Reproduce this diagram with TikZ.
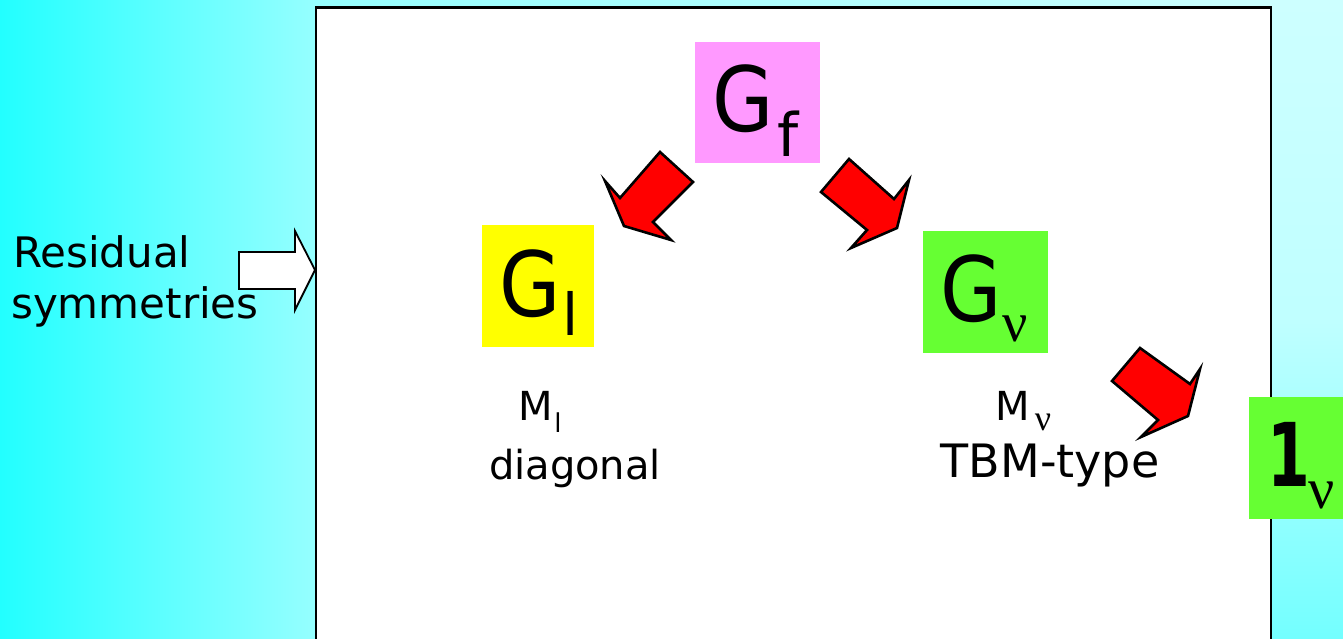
\documentclass[tikz,border=0pt]{standalone}
\usepackage{fontspec}
\setmainfont{DejaVu Sans}
\newfontfamily\grk{Liberation Serif}
\newfontfamily\gfont[FakeStretch=0.88]{DejaVu Sans}
\newfontfamily\onefont[FakeStretch=0.7]{DejaVu Sans Bold}
\definecolor{bgA}{RGB}{34,255,255}
\definecolor{bgB}{RGB}{150,255,255}
\definecolor{bgC}{RGB}{205,255,255}
\definecolor{bgD}{RGB}{115,255,255}
\definecolor{pinkG}{RGB}{255,153,255}
\definecolor{yelG}{RGB}{255,255,0}
\definecolor{grnG}{RGB}{102,255,51}
\tikzset{
  colbox/.style={rectangle, inner sep=0pt, draw=none},
  txt/.style={inner sep=0pt, anchor=base},
  redarrow/.style={fill=red, draw=black, line width=2.6pt, line join=miter},
  whitearrow/.style={fill=white, draw=black, line width=1.8pt, line join=miter}
}
\newcommand{\fsz}[1]{\fontsize{#1}{#1}\selectfont}
\begin{document}
\begin{tikzpicture}[x=1pt,y=-1pt]
\useasboundingbox (0,0) rectangle (1343,639);
% background
\shade[left color=bgA, right color=bgB] (0,0) rectangle (317,639);
\shade[left color=bgB, right color=bgC] (316,0) rectangle (1272,10);
\shade[top color=bgC, bottom color=bgD, middle color=bgC!85!bgD] (1271,0) rectangle (1343,639);
% frame
\draw[line width=2.8pt, fill=white] (316,7.5) rectangle (1271,700);
% coloured boxes
\node[colbox, fill=pinkG, minimum width=125, minimum height=121] (gfbox) at (757.5,102.7) {};
\node[colbox, fill=yelG, minimum width=112, minimum height=122] (glbox) at (538,286) {};
\node[colbox, fill=grnG, minimum width=125, minimum height=122] (gnbox) at (985.8,292) {};
\node[colbox, fill=grnG, minimum width=110, minimum height=122] (onebox) at (1304,458) {};
% box texts
\node[txt, font=\fsz{90}\gfont] (gf) at (743,132) {G};
\node[txt, font=\fsz{60}] (gfs) at (788,157) {f};
\node[txt, font=\fsz{90}\gfont] (gl) at (530,316.7) {G};
\node[txt, font=\fsz{58}] (gls) at (571,335.7) {l};
\node[txt, font=\fsz{90}\gfont] (gn) at (971,321.7) {G};
\node[txt, font=\fsz{56}\grk] (gns) at (1015,341.7) {ν};
\node[txt, font=\fsz{88}\onefont] (one) at (1288.5,486.7) {1};
\node[txt, font=\fsz{58}\grk] (ones) at (1322,508) {ν};
% labels
\node[txt, font=\fsz{40}] (ml) at (536,420) {M};
\node[txt, font=\fsz{26}] (mls) at (558,432) {l};
\node[txt, font=\fsz{40}] (diag) at (575,479) {diagonal};
\node[txt, font=\fsz{40}] (mn) at (1013,420) {M};
\node[txt, font=\fsz{36}\grk] (mns) at (1043,430) {ν};
\node[txt, font=\fsz{46}] (tbm) at (1050,477) {TBM-type};
\node[inner sep=0pt, anchor=base west, font=\fsz{42}] (res) at (13,267) {Residual};
\node[inner sep=0pt, anchor=base west, font=\fsz{42}] (sym) at (11,318) {symmetries};
% arrows
\draw[whitearrow] (239,252) -- (295,252) -- (295,231) -- (315,270) -- (295,310) -- (295,289) -- (239,289) -- cycle;
\draw[redarrow] (660,152) -- (693,182) -- (653,222) -- (671,240) -- (624,226) -- (605,181) -- (620,198) -- cycle;
\draw[redarrow] (849,159) -- (821,192) -- (867,230) -- (851,248) -- (897,228) -- (909,180) -- (894,199) -- cycle;
\draw[redarrow] (1140,348) -- (1112,381) -- (1158,420) -- (1141,437) -- (1188,416) -- (1200,369) -- (1190,384) -- cycle;
\end{tikzpicture}
\end{document}
